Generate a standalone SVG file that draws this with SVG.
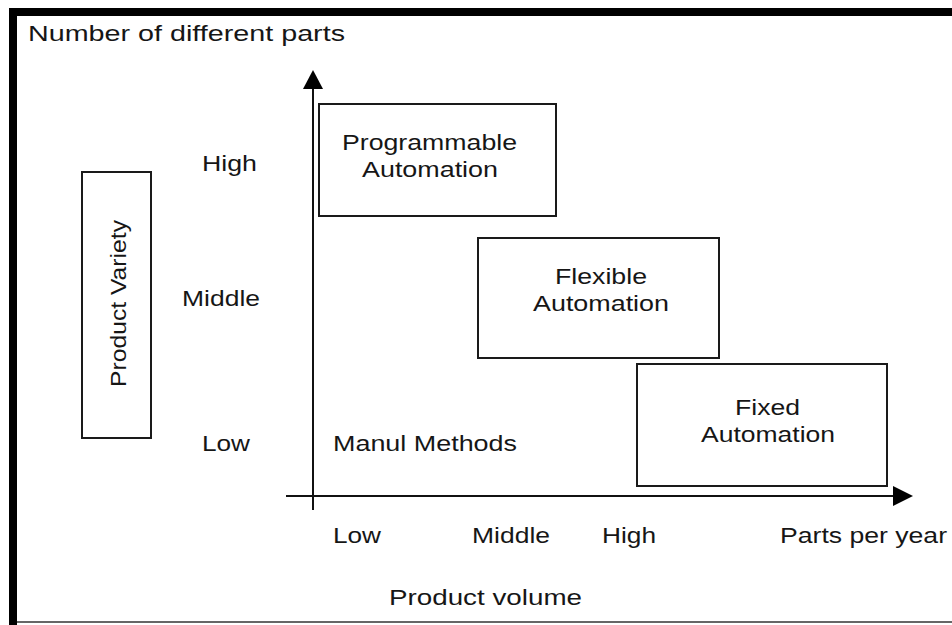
<svg xmlns="http://www.w3.org/2000/svg" width="952" height="625" viewBox="0 0 952 625">
<style>
  text { font-family: "Liberation Sans", Arial, sans-serif; font-size: 22px; fill: #161616; }
  .box { fill: none; stroke: #1a1a1a; stroke-width: 2; }
  .axis { stroke: #111; stroke-width: 2; fill: none; }
  .head { fill: #000; }
</style>
<rect x="0" y="0" width="952" height="625" fill="#ffffff"/>
<g id="frame">
  <rect x="9" y="8" width="943" height="8" fill="#000"/>
  <rect x="9" y="8" width="8" height="617" fill="#000"/>
  <line x1="17" y1="622" x2="952" y2="622" stroke="#333" stroke-width="1.5"/>
</g>
<g id="title">
  <text x="28" y="41" textLength="317" lengthAdjust="spacingAndGlyphs">Number of different parts</text>
</g>
<g id="connectors">
  <line class="axis" x1="313" y1="87" x2="313" y2="510"/>
  <polygon class="head" points="313,70 303,89 323,89"/>
  <line class="axis" x1="286" y1="496" x2="895" y2="496"/>
  <polygon class="head" points="913,496 893,486 893,506"/>
</g>
<g id="y-labels">
  <text x="202" y="171" textLength="55" lengthAdjust="spacingAndGlyphs">High</text>
  <text x="182" y="306" textLength="78" lengthAdjust="spacingAndGlyphs">Middle</text>
  <text x="202" y="451" textLength="48" lengthAdjust="spacingAndGlyphs">Low</text>
</g>
<g id="product-variety">
  <rect class="box" x="82" y="172" width="69" height="266"/>
  <text transform="translate(126,387) rotate(-90)" x="0" y="0" textLength="167" lengthAdjust="spacingAndGlyphs">Product Variety</text>
</g>
<g id="programmable">
  <rect class="box" x="319" y="104" width="237" height="112"/>
  <text x="342" y="150" textLength="175" lengthAdjust="spacingAndGlyphs">Programmable</text>
  <text x="362" y="177" textLength="136" lengthAdjust="spacingAndGlyphs">Automation</text>
</g>
<g id="flexible">
  <rect class="box" x="478" y="238" width="241" height="120"/>
  <text x="555" y="284" textLength="92" lengthAdjust="spacingAndGlyphs">Flexible</text>
  <text x="533" y="311" textLength="136" lengthAdjust="spacingAndGlyphs">Automation</text>
</g>
<g id="fixed">
  <rect class="box" x="637" y="364" width="250" height="122"/>
  <text x="735" y="415" textLength="65" lengthAdjust="spacingAndGlyphs">Fixed</text>
  <text x="701" y="442" textLength="134" lengthAdjust="spacingAndGlyphs">Automation</text>
</g>
<g id="manual">
  <text x="333" y="451" textLength="184" lengthAdjust="spacingAndGlyphs">Manul Methods</text>
</g>
<g id="x-labels">
  <text x="333" y="543" textLength="48" lengthAdjust="spacingAndGlyphs">Low</text>
  <text x="472" y="543" textLength="78" lengthAdjust="spacingAndGlyphs">Middle</text>
  <text x="602" y="543" textLength="54" lengthAdjust="spacingAndGlyphs">High</text>
  <text x="780" y="543" textLength="167" lengthAdjust="spacingAndGlyphs">Parts per year</text>
  <text x="389" y="605" textLength="193" lengthAdjust="spacingAndGlyphs">Product volume</text>
</g>
</svg>
